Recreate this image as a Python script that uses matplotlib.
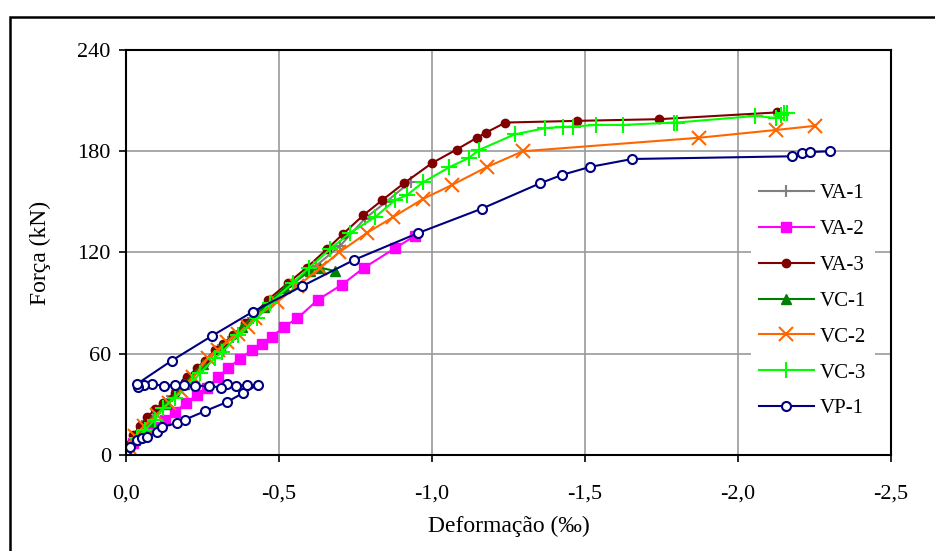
import matplotlib
matplotlib.use("Agg")
import matplotlib.pyplot as plt
from matplotlib.patches import Rectangle
from matplotlib.ticker import FuncFormatter

plt.rcParams['font.family'] = ['Liberation Serif', 'DejaVu Serif']

# deformacao (per mille) e forca (kN) por viga
va1_x = [0, -0.03, -0.07, -0.11, -0.15, -0.2, -0.25, -0.3, -0.35, -0.4, -0.47,
         -0.55, -0.62, -0.7, -0.78, -0.85, -0.93]
va1_y = [0, 10, 20, 28, 35, 44, 53, 62, 70, 78, 90, 102, 112, 124, 140, 150, 162]

va2_x = [0, -0.023, -0.046, -0.088, -0.127, -0.16, -0.196, -0.232, -0.265, -0.3,
         -0.333, -0.373, -0.41, -0.444, -0.477, -0.516, -0.56, -0.627, -0.706,
         -0.778, -0.879, -0.945]
va2_y = [0, 7, 11, 16.5, 20.7, 25.5, 31, 35.5, 40, 46, 51.5, 57, 62, 66, 70, 76,
         81, 92, 101, 111, 122.5, 130]

va3_x = [0, -0.007, -0.023, -0.046, -0.069, -0.095, -0.121, -0.16, -0.193, -0.2,
         -0.232, -0.258, -0.29, -0.317, -0.35, -0.389, -0.464, -0.53, -0.59,
         -0.657, -0.709, -0.775, -0.837, -0.908, -1.0, -1.08, -1.147, -1.176,
         -1.24, -1.474, -1.742, -2.127]
va3_y = [0, 6, 12, 17, 22.5, 27, 31, 37, 43, 46, 51.5, 56, 62, 66, 71, 78, 92, 102,
         111, 122, 131, 142, 151, 161, 173, 181, 188, 191, 197, 198, 199, 203]

vc1_x = [0, -0.03, -0.08, -0.13, -0.19, -0.25, -0.31, -0.38, -0.45, -0.52, -0.6,
         -0.635, -0.683]
vc1_y = [0, 9, 20, 30, 42, 54, 64, 76, 88, 99, 109, 111, 109]

vc2_x = [0, -0.01, -0.03, -0.06, -0.1, -0.14, -0.18, -0.22, -0.268, -0.3, -0.33,
         -0.366, -0.4, -0.42, -0.493, -0.56, -0.634, -0.696, -0.787, -0.873,
         -0.97, -1.065, -1.18, -1.297, -1.873, -2.124, -2.25]
vc2_y = [0, 5, 11, 17, 24, 31, 38, 46, 57.5, 62, 67, 72, 76, 81, 90.6, 100, 110.8,
         120, 131.6, 141, 151.7, 160, 170.7, 180, 188, 192.6, 195]

vc3_x = [0, -0.036, -0.062, -0.095, -0.121, -0.16, -0.216, -0.242, -0.29, -0.314,
         -0.366, -0.428, -0.47, -0.546, -0.598, -0.667, -0.732, -0.814, -0.879,
         -0.918, -0.97, -1.056, -1.12, -1.153, -1.27, -1.37, -1.428, -1.46,
         -1.535, -1.624, -1.79, -1.80, -2.056, -2.124, -2.14, -2.15, -2.16]
vc3_y = [0, 10, 15, 21, 28, 34, 43, 48.6, 57.5, 61, 71, 81, 90, 102, 111, 122,
         131.6, 141, 151, 154, 161.5, 170.5, 176, 180.7, 190, 193.7, 194.4, 194.6,
         195.6, 195.6, 197, 197, 200.9, 199.7, 201.5, 202.6, 202.7]

vp1_x = [0, -0.013, -0.036, -0.052, -0.069, -0.1, -0.118, -0.167, -0.193, -0.258,
         -0.33, -0.382, -0.43, -0.395, -0.36, -0.33, -0.31, -0.27, -0.225, -0.19,
         -0.16, -0.125, -0.085, -0.06, -0.04, -0.035, -0.15, -0.28, -0.415,
         -0.575, -0.745, -0.954, -1.163, -1.353, -1.425, -1.516, -1.654, -2.176,
         -2.21, -2.235, -2.3]
vp1_y = [0, 5, 9, 10, 10.7, 13.6, 16.6, 19, 21, 26, 31.4, 36.7, 41.5, 41.5, 41, 42,
         40, 41, 41, 41.5, 41.5, 41, 42, 41.5, 40.5, 42, 56, 70.5, 85, 100, 115.6,
         131.5, 146, 161, 166, 170.7, 175.4, 177, 179, 179.5, 180]

fig = plt.figure(figsize=(9.35, 5.51), dpi=100)
ax = fig.add_axes([0.1348, 0.1742, 0.8182, 0.7351])

ax.plot(va1_x, va1_y, color='#808080', lw=1.5, marker='+', ms=8, mew=1.5, label='VA-1')
ax.plot(va2_x, va2_y, color='#FF00FF', lw=1.5, marker='s', ms=6.5, label='VA-2')
ax.plot(va3_x, va3_y, color='#800000', lw=1.5, marker='o', ms=6, label='VA-3')
ax.plot(vc1_x, vc1_y, color='#008000', lw=1.5, marker='^', ms=7, label='VC-1')
ax.plot(vc2_x, vc2_y, color='#FF6600', lw=1.5, marker='x', ms=10, mew=1.5, label='VC-2')
ax.plot(vc3_x, vc3_y, color='#00FF00', lw=1.5, marker='+', ms=12, mew=1.5, label='VC-3')
ax.plot(vp1_x, vp1_y, color='#000080', lw=1.5, marker='o', ms=6.5, mfc='white',
        mew=1.5, label='VP-1')

ax.set_xlim(0, -2.5)
ax.set_ylim(0, 240)
ax.set_xticks([0, -0.5, -1.0, -1.5, -2.0, -2.5])
ax.set_yticks([0, 60, 120, 180, 240])
ax.xaxis.set_major_formatter(FuncFormatter(lambda v, p: f"{v:.1f}".replace('.', ',')))
ax.grid(True, color='#999999', lw=1.2)
ax.set_axisbelow(True)
for s in ax.spines.values():
    s.set_color('black')
    s.set_linewidth(1.5)
ax.tick_params(axis='both', direction='out', length=5, width=1.2, labelsize=16)
ax.tick_params(axis='x', pad=16)
ax.tick_params(axis='y', pad=6)

ax.set_xlabel('Deformação (‰)', fontsize=17, labelpad=9)
ax.set_ylabel('Força (kN)', fontsize=17, labelpad=19)

leg = ax.legend(loc='upper left', bbox_to_anchor=(0.817, 0.69), fontsize=15,
                frameon=True, edgecolor='none', framealpha=1, fancybox=False,
                handlelength=2.6, handletextpad=0.3, labelspacing=0.78,
                borderaxespad=0, borderpad=0.4)

fig.patches.append(Rectangle((0.0107, -0.2), 1.5, 1.2 - 0.031, transform=fig.transFigure,
                             fill=False, edgecolor='black', lw=1.8, zorder=0))

fig.savefig('out.png', dpi=100)
